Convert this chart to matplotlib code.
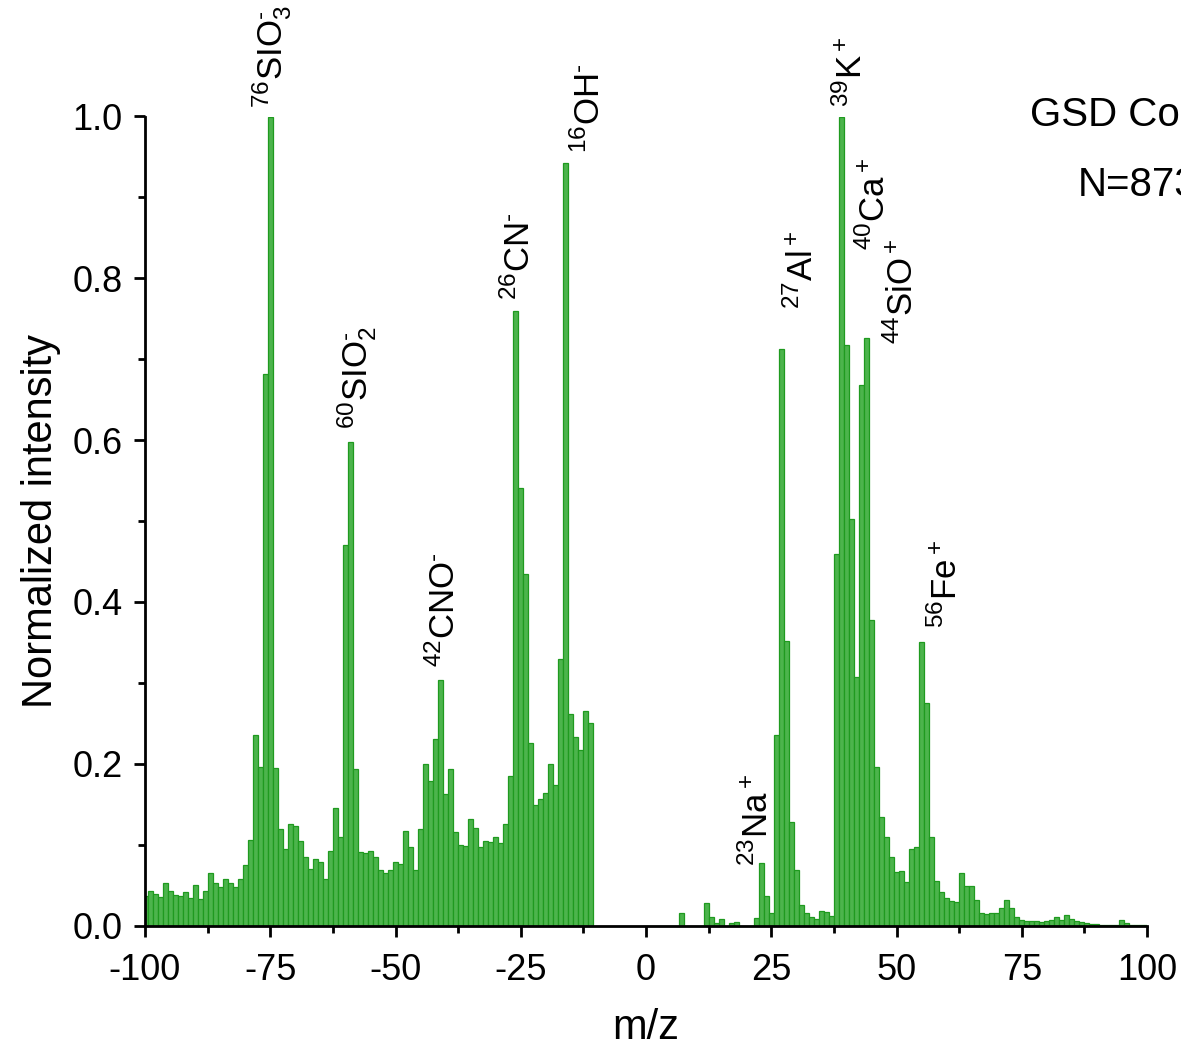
import numpy as np
import matplotlib
matplotlib.use("Agg")
import matplotlib.pyplot as plt
from matplotlib.ticker import MultipleLocator, FormatStrFormatter

plt.rcParams["font.family"] = ["Liberation Sans", "DejaVu Sans"]
plt.rcParams["mathtext.fontset"] = "custom"
plt.rcParams["mathtext.rm"] = "Liberation Sans"
plt.rcParams["mathtext.it"] = "Liberation Sans:italic"
plt.rcParams["mathtext.bf"] = "Liberation Sans:bold"
plt.rcParams["axes.unicode_minus"] = False

# Negative-ion spectrum, m/z -100 ... -11
neg_mz = np.arange(-100, -10)
neg_intensity = [
    0.036, 0.043, 0.039, 0.035, 0.053, 0.043, 0.038, 0.036, 0.041, 0.034,
    0.050, 0.033, 0.043, 0.065, 0.053, 0.047, 0.057, 0.052, 0.048, 0.058,
    0.075, 0.106, 0.235, 0.196, 0.682, 1.000, 0.195, 0.119, 0.094, 0.126,
    0.123, 0.105, 0.085, 0.070, 0.082, 0.079, 0.057, 0.092, 0.145, 0.110,
    0.470, 0.598, 0.194, 0.091, 0.090, 0.092, 0.085, 0.068, 0.065, 0.069,
    0.079, 0.076, 0.117, 0.097, 0.069, 0.119, 0.200, 0.178, 0.230, 0.304,
    0.162, 0.193, 0.115, 0.100, 0.098, 0.132, 0.121, 0.097, 0.104, 0.103,
    0.109, 0.102, 0.125, 0.185, 0.760, 0.541, 0.435, 0.226, 0.149, 0.156,
    0.164, 0.200, 0.174, 0.329, 0.943, 0.262, 0.233, 0.217, 0.265, 0.250,
]

# Positive-ion spectrum, m/z 0 ... 100
pos_mz = np.arange(0, 101)
pos_intensity = [
    0.000, 0.000, 0.000, 0.000, 0.000, 0.000, 0.000, 0.015, 0.000, 0.000,
    0.000, 0.000, 0.028, 0.010, 0.003, 0.008, 0.000, 0.003, 0.004, 0.000,
    0.000, 0.000, 0.009, 0.077, 0.036, 0.015, 0.235, 0.712, 0.352, 0.128,
    0.069, 0.025, 0.016, 0.011, 0.008, 0.018, 0.017, 0.012, 0.459, 1.000,
    0.717, 0.503, 0.307, 0.668, 0.726, 0.378, 0.196, 0.134, 0.110, 0.085,
    0.066, 0.067, 0.054, 0.095, 0.097, 0.350, 0.275, 0.110, 0.055, 0.041,
    0.034, 0.030, 0.029, 0.065, 0.049, 0.049, 0.032, 0.015, 0.014, 0.016,
    0.015, 0.022, 0.031, 0.022, 0.010, 0.007, 0.005, 0.005, 0.005, 0.004,
    0.005, 0.007, 0.011, 0.007, 0.013, 0.008, 0.006, 0.004, 0.003, 0.002,
    0.002, 0.001, 0.001, 0.001, 0.001, 0.007, 0.003, 0.001, 0.001, 0.001,
    0.001,
]

# Peak assignments: label text and the m/z of the bar it marks
HY = "\u2010"  # short hyphen used for the anion charge
peak_labels = [
    r"$\mathregular{^{76}SIO_3^{%s}}$" % HY,
    r"$\mathregular{^{60}SIO_2^{%s}}$" % HY,
    r"$\mathregular{^{42}CNO^{%s}}$" % HY,
    r"$\mathregular{^{26}CN^{%s}}$" % HY,
    r"$\mathregular{^{16}OH^{%s}}$" % HY,
    r"$\mathregular{^{23}Na^+}$",
    r"$\mathregular{^{27}Al^+}$",
    r"$\mathregular{^{39}K^+}$",
    r"$\mathregular{^{40}Ca^+}$",
    r"$\mathregular{^{44}SiO^+}$",
    r"$\mathregular{^{56}Fe^+}$",
]
peak_mz = [-75, -59, -41, -26, -16, 23, 27, 39, 40, 44, 55]

# Label placement relative to the bar top (points)
label_offsets = [
    (1, 6), (5, 9), (3, 9), (3, 8), (17, 7), (-3, -2),
    (15, 29), (7, 7), (20, 69), (26, -4), (18, 10),
]

sample_name = "GSD Coal"
particle_count = "N=873"

fig = plt.figure(figsize=(11.81, 10.50), dpi=100)
ax = fig.add_axes([145 / 1181, 124.5 / 1050, 1002 / 1181, 809 / 1050])

face = "#4cb44c"
edge = "#1f9a1f"
ax.bar(neg_mz, neg_intensity, width=1.0, color=face, edgecolor=edge, linewidth=0.9)
ax.bar(pos_mz, pos_intensity, width=1.0, color=face, edgecolor=edge, linewidth=0.9)

lookup = dict(zip(list(neg_mz) + list(pos_mz), neg_intensity + pos_intensity))
for text, mz, (dx, dy) in zip(peak_labels, peak_mz, label_offsets):
    ax.annotate(text, xy=(mz, lookup[mz]), xytext=(dx, dy),
                textcoords="offset points", rotation=90,
                ha="center", va="bottom", fontsize=25, annotation_clip=False)

ax.set_xlim(-100, 100)
ax.set_ylim(0, 1.0)
ax.spines["top"].set_visible(False)
ax.spines["right"].set_visible(False)
for s in ("left", "bottom"):
    ax.spines[s].set_linewidth(2.0)

ax.xaxis.set_major_locator(MultipleLocator(25))
ax.xaxis.set_minor_locator(MultipleLocator(12.5))
ax.yaxis.set_major_locator(MultipleLocator(0.2))
ax.yaxis.set_minor_locator(MultipleLocator(0.1))
ax.yaxis.set_major_formatter(FormatStrFormatter("%.1f"))
ax.tick_params(which="major", direction="out", length=8, width=2.0,
               labelsize=26)
ax.tick_params(axis="x", which="major", pad=12)
ax.tick_params(axis="y", which="major", pad=8)
ax.tick_params(which="minor", direction="out", length=5, width=2.0)

ax.set_xlabel("m/z", fontsize=30, labelpad=14)
ax.set_ylabel("Normalized intensity", fontsize=30, labelpad=8)

fig.text(1030 / 1181, 1 - 115 / 1050, sample_name, fontsize=29,
         ha="left", va="center")
fig.text(1078 / 1181, 1 - 185 / 1050, particle_count, fontsize=29,
         ha="left", va="center")

fig.savefig("out.png", dpi=100)
